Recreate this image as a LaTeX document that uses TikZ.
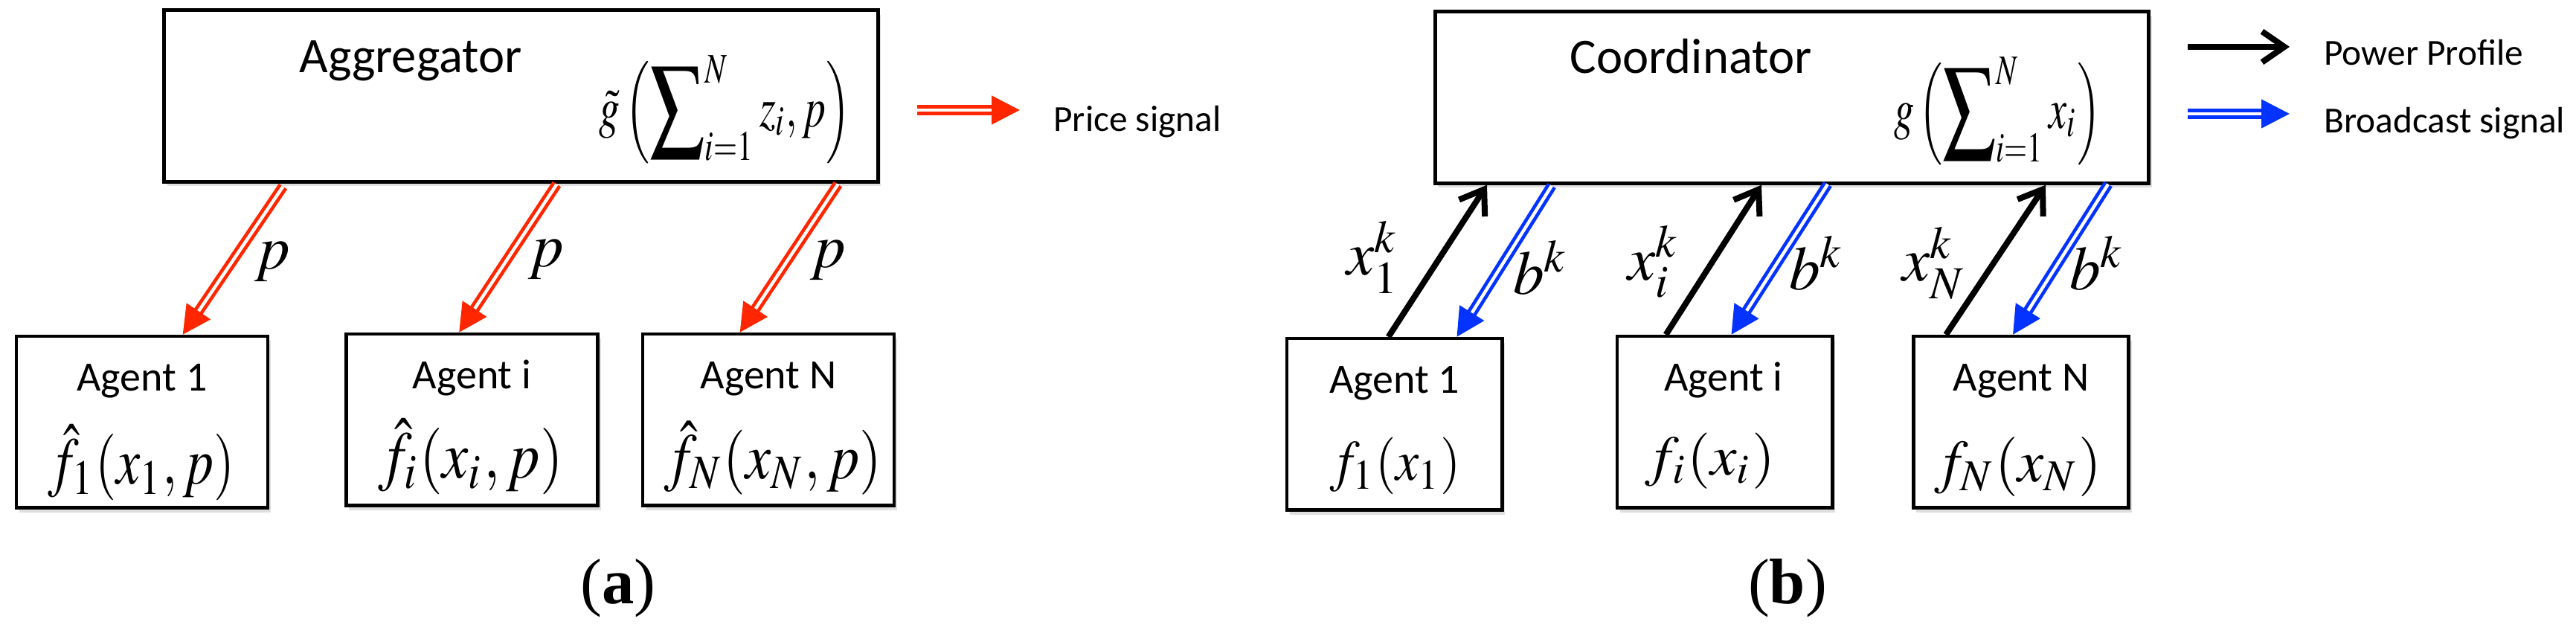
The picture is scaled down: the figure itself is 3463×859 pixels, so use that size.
\documentclass[tikz,border=0pt]{standalone}
\usepackage{mathptmx}
\usepackage[no-math]{fontspec}
\usepackage{graphicx}
\setmainfont{Carlito}
\newfontfamily\capfont{Liberation Serif}
\usetikzlibrary{arrows.meta,calc,shadows}
\definecolor{sigred}{RGB}{255,38,0}
\definecolor{sigblue}{RGB}{4,51,255}
\newcommand{\AggSum}{\mathop{\vcenter{\hbox{\scalebox{1.3}{$\displaystyle\sum$}}}}\nolimits}
\newcommand{\StretchFml}[3]{\resizebox*{#1}{#2}{$\displaystyle #3$}}
\begin{document}
\begin{tikzpicture}[x=0.15pt,y=-0.15pt,
    box/.style={draw,rectangle,line width=0.7pt,inner sep=0pt,fill=white,
      drop shadow={shadow xshift=0.6pt,shadow yshift=-0.9pt,opacity=0.25}},
    bigbox/.style={box,minimum width=143.9pt,minimum height=34.6pt},
    agentA/.style={box,minimum width=50.7pt,minimum height=34.6pt},
    agentB/.style={box,minimum width=43.4pt,minimum height=34.6pt},
    head/.style={font=\fontsize{10}{12}\selectfont,anchor=base},
    agtxt/.style={font=\fontsize{8.4}{10}\selectfont,anchor=base},
    legtxt/.style={font=\fontsize{7.4}{9}\selectfont,anchor=base west,inner sep=0pt},
    fml/.style={inner sep=0pt},
    lab/.style={font=\fontsize{12.5}{14}\selectfont,inner sep=0pt},
    redsig/.style={draw=sigred,double=white,double distance=0.65pt,line width=0.7pt,
      -{Triangle[length=5.7pt,width=5.7pt]}},
    bluesig/.style={redsig,draw=sigblue},
    power/.style={line width=1.2pt,-{Straight Barb[length=4.5pt,width=6.2pt]}}]
\useasboundingbox (0,0) rectangle (3463,859);
% (a) aggregator
\node (agg) at (700.5,129) [bigbox] {};
\node (aggT) at (552,98) [head] {Aggregator};
\node (aggF) at (975,147.5) [fml] {\StretchFml{50.7pt}{21.75pt}{\tilde{g}\left(\AggSum_{i=1}^{N} z_i, p\right)}};
\node (A1) at (191,567.5) [agentA] {};
\node (Ai) at (634.5,564.5) [agentA] {};
\node (AN) at (1033,564.5) [agentA] {};
\node (A1T) at (191,526) [agtxt] {Agent 1};
\node (AiT) at (634.5,523) [agtxt] {Agent i};
\node (ANT) at (1033,523) [agtxt] {Agent N};
\node (A1F) at (190.5,622) [fml] {\StretchFml{37.6pt}{15.3pt}{\hat{f}_1(x_1,p)}};
\node (AiF) at (632.5,614) [fml] {\StretchFml{37.3pt}{15.3pt}{\hat{f}_i(x_i,p)}};
\node (ANF) at (1039,615.5) [fml] {\StretchFml{43.8pt}{14.9pt}{\hat{f}_N(x_N,p)}};
\draw [redsig] ($(agg.south west)+(162,4)$) -- ($(A1.north west)+(226,0)$);
\draw [redsig] ($(agg.south west)+(530,1)$) -- ($(Ai.north west)+(154,0)$);
\draw [redsig] ($(agg.south west)+(908,1)$) -- ($(AN.north west)+(133,0)$);
\node (p1) at (366,352) [lab] {$p$};
\node (pi) at (734,349) [lab] {$p$};
\node (pN) at (1113,350) [lab] {$p$};
\coordinate (priceS) at (1233,148);
\coordinate (priceE) at (1371,148);
\draw [redsig] (priceS) -- (priceE);
\node (priceT) at (1415,177) [legtxt] {Price signal};
\node (capA) at (831,791) [font=\capfont\fontsize{13}{15}\selectfont] {(\textbf{a})};
% (b) coordinator
\node (crd) at (2409,131) [bigbox] {};
\node (crdT) at (2273,99) [head] {Coordinator};
\node (crdF) at (2685.5,149.5) [fml] {\StretchFml{41.8pt}{21.75pt}{g\left(\AggSum_{i=1}^{N} x_i\right)}};
\node (B1) at (1874.5,570.5) [agentB] {};
\node (Bi) at (2318.5,567.5) [agentB] {};
\node (BN) at (2717,567.5) [agentB] {};
\node (B1T) at (1874.5,529) [agtxt] {Agent 1};
\node (BiT) at (2317,526) [agtxt] {Agent i};
\node (BNT) at (2717,526) [agtxt] {Agent N};
\node (B1F) at (1876,626.5) [fml] {\StretchFml{26.4pt}{11.5pt}{f_1(x_1)}};
\node (BiF) at (2299,619.5) [fml] {\StretchFml{26.1pt}{11.3pt}{f_i(x_i)}};
\node (BNF) at (2712.5,628) [fml] {\StretchFml{33.7pt}{12pt}{f_N(x_N)}};
\draw [power] ($(B1.north west)+(139,0)$) -- ($(crd.south west)+(72,0)$);
\draw [power] ($(Bi.north west)+(68,0)$) -- ($(crd.south west)+(441,0)$);
\draw [power] ($(BN.north west)+(46,0)$) -- ($(crd.south west)+(823,0)$);
\draw [bluesig] ($(crd.south west)+(159,1)$) -- ($(B1.north west)+(231,0)$);
\draw [bluesig] ($(crd.south west)+(530,-1)$) -- ($(Bi.north west)+(156,0)$);
\draw [bluesig] ($(crd.south west)+(907,-1)$) -- ($(BN.north west)+(136,0)$);
\node (xk1) at (1846,346) [lab] {$x_1^k$};
\node (bk1) at (2071,360) [lab] {$b^k$};
\node (xki) at (2223,352) [lab] {$x_i^k$};
\node (bki) at (2442,354) [lab] {$b^k$};
\node (xkN) at (2600,354) [lab] {$x_N^k$};
\node (bkN) at (2819,354) [lab] {$b^k$};
\coordinate (powS) at (2941,63);
\coordinate (powE) at (3078,63);
\draw [power] (powS) -- (powE);
\node (powT) at (3123,88) [legtxt] {Power Profile};
\coordinate (bcS) at (2941,153);
\coordinate (bcE) at (3078,153);
\draw [bluesig] (bcS) -- (bcE);
\node (bcT) at (3123,179) [legtxt] {Broadcast signal};
\node (capB) at (2403,791) [font=\capfont\fontsize{13}{15}\selectfont] {(\textbf{b})};
\end{tikzpicture}
\end{document}
